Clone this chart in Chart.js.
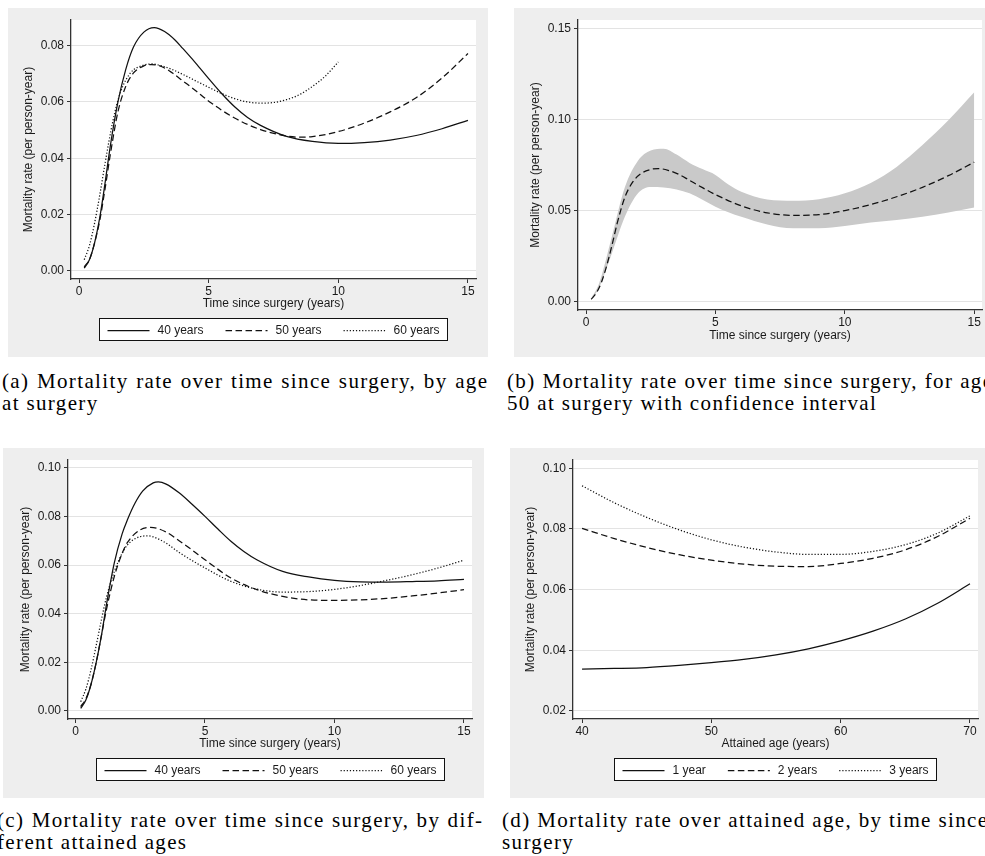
<!DOCTYPE html>
<html>
<head>
<meta charset="utf-8">
<script src="https://cdn.jsdelivr.net/npm/chart.js@4.4.1/dist/chart.umd.min.js"></script>
<style>
  html, body { margin:0; padding:0; background:#ffffff; }
  body { width:985px; height:856px; overflow:hidden; position:relative; }
  .panel { position:absolute; background:#eeeeee; overflow:hidden; }
  .panel canvas { display:block; }
  .cap { position:absolute; font-family:"Liberation Serif","Times New Roman",serif; font-size:21px;
         line-height:22px; color:#000; white-space:nowrap; }
  .cap div { height:22px; white-space:nowrap; }
</style>
</head>
<body>
<div id="pa" class="panel"></div>
<div id="pb" class="panel"></div>
<div id="pc" class="panel"></div>
<div id="pd" class="panel"></div>
<div id="caps"></div>
<script>
// ---------------- data ----------------
// (a) mortality rate by time since surgery, by age at surgery
const tA40 = [0.2,0.4,0.6,0.8,1.0,1.2,1.5,1.8,2.1,2.5,2.9,3.3,3.7,4.0,4.5,5.0,5.5,6.0,6.5,7.0,8.0,9.0,10.0,11.0,12.0,13.0,14.0,15.0];
const a40  = [0.001,0.004,0.010,0.019,0.031,0.044,0.060,0.0715,0.0795,0.0848,0.0864,0.0850,0.0820,0.0790,0.0738,0.0683,0.0630,0.0583,0.0545,0.0517,0.0478,0.0460,0.0453,0.0456,0.0465,0.0481,0.0505,0.0535];
const tA50 = [0.2,0.4,0.6,0.8,1.0,1.2,1.5,1.8,2.1,2.5,2.8,3.2,3.6,4.0,4.5,5.0,6.0,7.0,8.0,8.5,9.0,10.0,11.0,12.0,13.0,14.0,15.0];
const a50  = [0.0015,0.004,0.010,0.018,0.029,0.041,0.0565,0.0655,0.0703,0.0728,0.0733,0.0725,0.0703,0.0675,0.0640,0.0603,0.0543,0.0502,0.0479,0.0475,0.0477,0.0495,0.0525,0.0565,0.0615,0.0685,0.0772];
const tA60 = [0.2,0.4,0.6,0.8,1.0,1.3,1.6,2.0,2.4,2.8,3.2,3.6,4.0,4.5,5.0,5.5,6.0,6.5,7.0,7.5,8.0,8.5,9.0,9.5,10.0];
const a60  = [0.004,0.009,0.017,0.027,0.038,0.053,0.0635,0.0705,0.0728,0.0735,0.0728,0.0715,0.0698,0.0675,0.0652,0.0630,0.0612,0.0600,0.0596,0.0598,0.0608,0.0626,0.0655,0.0692,0.0742];

// (b) age 50 at surgery with confidence interval
const tB     = [0.2,0.5,1.0,1.5,2.0,2.5,3.0,3.5,4.0,4.5,5.0,5.5,6.0,7.0,8.0,9.0,10.0,11.0,12.0,13.0,14.0,15.0];
const bUpper = [0.002,0.010,0.036,0.063,0.0775,0.0832,0.0842,0.0810,0.0764,0.0730,0.0698,0.0645,0.0605,0.0563,0.0556,0.0565,0.0597,0.0654,0.0742,0.0862,0.0998,0.1152];
const bLower = [0.0013,0.0077,0.0268,0.0468,0.0596,0.0632,0.0629,0.0618,0.0597,0.0562,0.0523,0.0493,0.0468,0.0426,0.0405,0.0405,0.0417,0.0436,0.0450,0.0468,0.0492,0.0519];
const tB50   = [0.2,0.4,0.6,0.8,1.0,1.2,1.5,1.8,2.1,2.5,2.8,3.2,3.6,4.0,4.5,5.0,6.0,7.0,8.0,9.0,10.0,11.0,12.0,13.0,14.0,15.0];
const b50    = [0.0015,0.005,0.011,0.020,0.031,0.043,0.0575,0.0658,0.0703,0.0728,0.0733,0.0722,0.0700,0.0668,0.0628,0.0590,0.0528,0.0490,0.0476,0.0480,0.0502,0.0535,0.0578,0.0630,0.0694,0.0768];

// (c) by attained age
const tC40 = [0.2,0.4,0.6,0.8,1.0,1.2,1.5,1.8,2.0,2.3,2.6,3.0,3.2,3.5,4.0,4.5,5.0,5.5,6.0,6.5,7.0,8.0,9.0,10.0,11.0,12.0,13.0,14.0,15.0];
const c40  = [0.0011,0.0045,0.011,0.020,0.031,0.044,0.061,0.0728,0.0785,0.0855,0.0905,0.0938,0.0942,0.0933,0.0897,0.0850,0.0800,0.0748,0.0698,0.0656,0.0622,0.0574,0.0551,0.0537,0.0531,0.0530,0.0532,0.0535,0.0541];
const tC50 = [0.2,0.4,0.6,0.8,1.0,1.2,1.5,1.8,2.0,2.5,2.9,3.5,4.0,4.5,5.0,6.0,7.0,8.0,9.0,10.0,11.0,12.0,13.0,14.0,15.0];
const c50  = [0.0018,0.005,0.011,0.020,0.031,0.042,0.0554,0.0648,0.0692,0.0745,0.0755,0.0736,0.0700,0.0662,0.0622,0.0547,0.0499,0.0471,0.0457,0.0455,0.0457,0.0463,0.0473,0.0485,0.0499];
const tC60 = [0.2,0.4,0.6,0.8,1.0,1.2,1.5,1.8,2.0,2.5,2.8,3.0,3.5,4.0,5.0,6.0,7.0,8.0,9.0,10.0,11.0,12.0,13.0,14.0,15.0];
const c60  = [0.0038,0.009,0.017,0.027,0.0375,0.047,0.0574,0.0648,0.0682,0.0717,0.0720,0.0716,0.0690,0.0652,0.0588,0.0533,0.0501,0.0489,0.0491,0.0500,0.0516,0.0537,0.0560,0.0588,0.0620];

// (d) by attained age, for time since surgery
const ageD = [40,42.5,45,47.5,50,52.5,55,57.5,60,62.5,65,67.5,70];
const d1   = [0.0338,0.0340,0.0343,0.0350,0.0359,0.0370,0.0385,0.0405,0.0431,0.0463,0.0503,0.0555,0.0619];
const d2   = [0.0802,0.0768,0.0739,0.0715,0.0697,0.0684,0.0677,0.0676,0.0686,0.0703,0.0731,0.0775,0.0835];
const d3   = [0.0942,0.0886,0.0838,0.0797,0.0764,0.0740,0.0724,0.0716,0.0716,0.0726,0.0748,0.0786,0.0843];

// tick labels
const timeTicks = [0,5,10,15];
const ageTicks  = [40,50,60,70];
const yTicksA = [0,0.02,0.04,0.06,0.08];
const yTicksB = [0,0.05,0.10,0.15];
const yTicksC = [0,0.02,0.04,0.06,0.08,0.10];
const yTicksD = [0.02,0.04,0.06,0.08,0.10];
const ageLabels  = ['40 years','50 years','60 years'];
const timeLabels = ['1 year','2 years','3 years'];

const CAP_A = ['(a) Mortality rate over time since surgery, by age', 'at surgery'];
const CAP_B = ['(b) Mortality rate over time since surgery, for age', '50 at surgery with confidence interval'];
const CAP_C = ['(c) Mortality rate over time since surgery, by dif-', 'ferent attained ages'];
const CAP_D = ['(d) Mortality rate over attained age, by time since', 'surgery'];

// ---------------- styling ----------------
const FONT = "'Liberation Sans', Arial, Helvetica, sans-serif";
const AXIS = '#333333';
const GRID = '#e3e3e3';
const INK  = '#111111';
const DASH = [6.5, 3.5];
const DOT  = [1.2, 1.9];
const STYLES = [ [], DASH, DOT ];
const LW = 1.25;

function pts(xs, ys) { return xs.map((x, i) => ({ x: x, y: ys[i] })); }
function lineDs(label, xs, ys, k) {
  return { label: label, data: pts(xs, ys), borderColor: INK, borderWidth: LW,
           borderDash: STYLES[k], fill: false, pointRadius: 0,
           cubicInterpolationMode: 'monotone', inLegend: true };
}

const plotBg = {
  id: 'plotBg',
  beforeDraw(chart) {
    const a = chart.chartArea, ctx = chart.ctx;
    ctx.save(); ctx.fillStyle = '#ffffff';
    ctx.fillRect(a.left, a.top, a.right - a.left, a.bottom - a.top);
    ctx.restore();
  }
};

const stataLegend = {
  id: 'stataLegend',
  afterDraw(chart, args, opts) {
    if (!opts || !opts.show) return;
    const ctx = chart.ctx;
    const items = chart.data.datasets.filter(d => d.inLegend);
    ctx.save();
    ctx.font = '12px ' + FONT;
    const keyW = 42, gap = 8, space = 22, pad = 8;
    const widths = items.map(d => keyW + gap + ctx.measureText(d.label).width);
    const total = widths.reduce((s, w) => s + w, 0) + space * (items.length - 1) + 2 * pad;
    const ca = chart.chartArea;
    const x0 = Math.round((ca.left + ca.right) / 2 - total / 2) + 0.5;
    const y0 = Math.round(ca.bottom + opts.offset) + 0.5;
    const h = opts.height;
    ctx.fillStyle = '#ffffff';
    ctx.fillRect(x0, y0, Math.round(total), h);
    ctx.strokeStyle = '#111111'; ctx.lineWidth = 1;
    ctx.strokeRect(x0, y0, Math.round(total), h);
    let x = x0 + pad;
    const ym = Math.round(y0 + h / 2) + 0.5;
    items.forEach((d, i) => {
      ctx.beginPath();
      ctx.setLineDash(d.borderDash || []);
      ctx.strokeStyle = d.borderColor; ctx.lineWidth = d.borderWidth;
      ctx.moveTo(x, ym); ctx.lineTo(x + keyW, ym); ctx.stroke();
      ctx.setLineDash([]);
      ctx.fillStyle = '#1a1a1a'; ctx.textBaseline = 'middle'; ctx.textAlign = 'left';
      ctx.fillText(d.label, x + keyW + gap, ym);
      x += widths[i] + space;
    });
    ctx.restore();
  }
};

function build(id, P, datasets, xTicks, yTicks, xTitle, legend) {
  const div = document.getElementById(id);
  const W = P.grey[2] - P.grey[0], H = P.grey[3] - P.grey[1];
  div.style.left = P.grey[0] + 'px'; div.style.top = P.grey[1] + 'px';
  div.style.width = W + 'px'; div.style.height = H + 'px';
  const cv = document.createElement('canvas');
  cv.width = W; cv.height = H; cv.style.width = W + 'px'; cv.style.height = H + 'px';
  div.appendChild(cv);
  const tickFont = { family: FONT, size: 12 };
  new Chart(cv, {
    type: 'line',
    data: { datasets: datasets },
    options: {
      responsive: false, animation: false, devicePixelRatio: 1,
      layout: { padding: { left: 0, top: P.plot[1] - P.grey[1], right: P.grey[2] - P.plot[2], bottom: 0 } },
      plugins: {
        legend: { display: false }, tooltip: { enabled: false },
        stataLegend: { show: legend, offset: 39, height: 22 }
      },
      scales: {
        x: {
          type: 'linear', min: P.xmin, max: P.xmax,
          afterBuildTicks: s => { s.ticks = xTicks.map(v => ({ value: v })); },
          afterFit: s => { s.height = P.grey[3] - P.plot[3]; },
          grid: { drawOnChartArea: false, drawTicks: true, tickLength: 4, tickColor: AXIS, tickWidth: 1 },
          border: { display: true, color: AXIS, width: 1.3 },
          ticks: { color: '#1a1a1a', font: tickFont, padding: 1, maxRotation: 0, autoSkip: false,
                   callback: v => String(v) },
          title: { display: true, text: xTitle, color: '#1a1a1a', font: tickFont,
                   padding: { top: 0, bottom: P.grey[3] - P.xTitleY - 7.2 } }
        },
        y: {
          type: 'linear', min: P.ymin, max: P.ymax,
          afterBuildTicks: s => { s.ticks = yTicks.map(v => ({ value: v })); },
          afterFit: s => { s.width = P.plot[0] - P.grey[0]; },
          grid: { color: GRID, lineWidth: 1, drawTicks: true, tickLength: 4, tickColor: AXIS, tickWidth: 1 },
          border: { display: true, color: AXIS, width: 1.3 },
          ticks: { color: '#1a1a1a', font: tickFont, padding: 3, autoSkip: false,
                   callback: v => Number(v).toFixed(2) },
          title: { display: true, text: 'Mortality rate (per person-year)', color: '#1a1a1a', font: tickFont,
                   padding: { top: (P.plot[0] - 42.7) - P.grey[0] - 7.2, bottom: 0 } }
        }
      }
    },
    plugins: [plotBg, stataLegend]
  });
}

const PA = { grey: [8, 8, 488, 357],   plot: [71, 20, 476, 279],  xmin: -0.31, xmax: 15.31, ymin: -0.00284, ymax: 0.0891, xTitleY: 304 };
const PB = { grey: [514, 8, 985, 357], plot: [578, 20, 982, 310], xmin: -0.31, xmax: 15.30, ymin: -0.0044,  ymax: 0.1549, xTitleY: 336 };
const PC = { grey: [3, 448, 484, 798], plot: [68, 460, 472, 719], xmin: -0.29, xmax: 15.31, ymin: -0.0033,  ymax: 0.1032, xTitleY: 744 };
const PD = { grey: [510, 448, 985, 798], plot: [573, 460, 978, 719], xmin: 39.3, xmax: 70.62, ymin: 0.01736, ymax: 0.1027, xTitleY: 744 };

build('pa', PA, [
  lineDs(ageLabels[0], tA40, a40, 0),
  lineDs(ageLabels[1], tA50, a50, 1),
  lineDs(ageLabels[2], tA60, a60, 2)
], timeTicks, yTicksA, 'Time since surgery (years)', true);

// mean line first so it is drawn last (on top of the band)
build('pb', PB, [
  lineDs(ageLabels[1], tB50, b50, 1),
  { label: 'lower', data: pts(tB, bLower), borderColor: 'rgba(0,0,0,0)', borderWidth: 1, pointRadius: 0,
    fill: false, cubicInterpolationMode: 'monotone' },
  { label: 'upper', data: pts(tB, bUpper), borderColor: 'rgba(0,0,0,0)', borderWidth: 1, pointRadius: 0,
    fill: '-1', backgroundColor: '#c9c9c9', cubicInterpolationMode: 'monotone' }
], timeTicks, yTicksB, 'Time since surgery (years)', false);

build('pc', PC, [
  lineDs(ageLabels[0], tC40, c40, 0),
  lineDs(ageLabels[1], tC50, c50, 1),
  lineDs(ageLabels[2], tC60, c60, 2)
], timeTicks, yTicksC, 'Time since surgery (years)', true);

build('pd', PD, [
  lineDs(timeLabels[0], ageD, d1, 0),
  lineDs(timeLabels[1], ageD, d2, 1),
  lineDs(timeLabels[2], ageD, d3, 2)
], ageTicks, yTicksD, 'Attained age (years)', true);

// ---------------- captions (first lines stretched to the 485px column, like LaTeX justification) ----------------
(function () {
  const host = document.getElementById('caps');
  function measure(text, ls) {
    const probe = document.createElement('span');
    probe.className = 'cap'; probe.style.visibility = 'hidden';
    probe.style.left = '0px'; probe.style.top = '0px';
    probe.style.letterSpacing = ls + 'px';
    probe.textContent = text;
    host.appendChild(probe);
    const w = probe.getBoundingClientRect().width;
    host.removeChild(probe);
    return w;
  }
  const COL = 485;
  const w0 = measure(CAP_A[0], 0);
  const ls = Math.max(0, (COL - w0 - 8) / (CAP_A[0].length - 1));
  const caps = [ { x: 2, y: 370, t: CAP_A }, { x: 507, y: 370, t: CAP_B },
                 { x: -3, y: 809, t: CAP_C }, { x: 502, y: 809, t: CAP_D } ];
  caps.forEach(c => {
    const d = document.createElement('div');
    d.className = 'cap'; d.style.left = c.x + 'px'; d.style.top = c.y + 'px';
    d.style.letterSpacing = ls + 'px';
    const l1 = document.createElement('div'); l1.textContent = c.t[0];
    const w1 = measure(c.t[0], ls) - ls;
    const nSp = (c.t[0].match(/ /g) || []).length;
    l1.style.wordSpacing = ((COL - w1) / nSp) + 'px';
    const l2 = document.createElement('div'); l2.textContent = c.t[1];
    d.appendChild(l1); d.appendChild(l2);
    host.appendChild(d);
  });
})();
</script>
</body>
</html>
